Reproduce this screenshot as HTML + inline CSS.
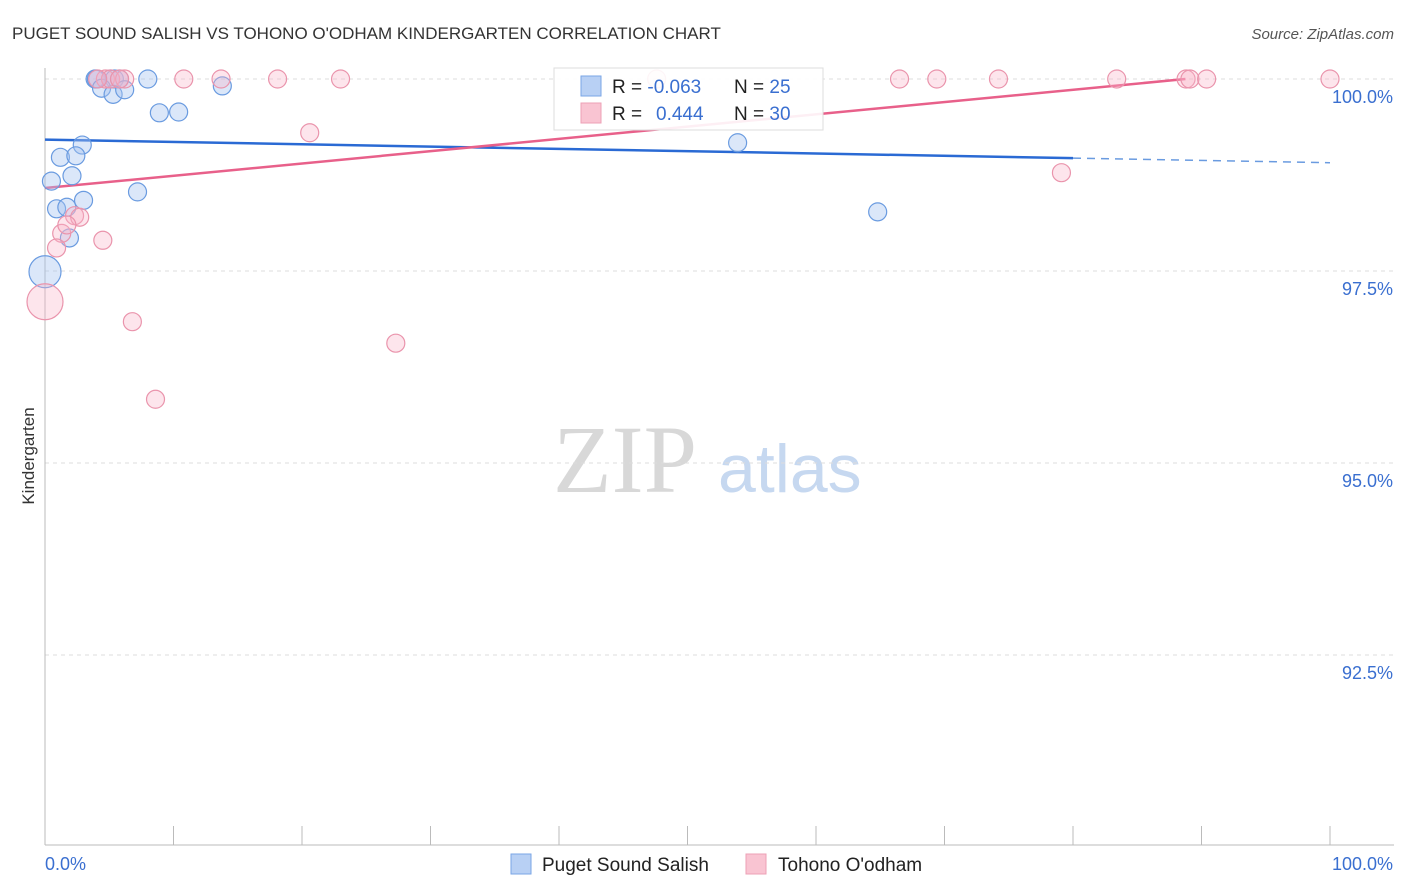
<!DOCTYPE html>
<html><head><meta charset="utf-8">
<style>
body{margin:0;background:#fff;font-family:"Liberation Sans",sans-serif;}
svg{display:block}
</style></head>
<body>
<svg id="chart" width="1406" height="892">
<text x="12" y="39" font-size="17" fill="#333">PUGET SOUND SALISH VS TOHONO O'ODHAM KINDERGARTEN CORRELATION CHART</text>
<text x="1394" y="39" font-size="15" fill="#555" font-style="italic" text-anchor="end">Source: ZipAtlas.com</text>
<text x="34" y="456" font-size="17" fill="#333" text-anchor="middle" transform="rotate(-90 34 456)">Kindergarten</text>
<text x="553" y="492" font-size="96" fill="#d8d8d8" font-family="Liberation Serif,serif">ZIP</text>
<text x="718" y="492" font-size="68" fill="#c6d8f0">atlas</text>
<g id="grid"></g><g id="axes"></g><g id="trends"></g><g id="pts"></g>
<g>
<rect x="554" y="68" width="269" height="62" fill="#fff" fill-opacity="0.9" stroke="#ddd"/>
<rect x="581" y="76" width="20" height="20" fill="#b8d0f4" stroke="#7aa6e6"/>
<rect x="581" y="103" width="20" height="20" fill="#f9c4d2" stroke="#eda0b6"/>
<text x="612" y="93" font-size="19" fill="#222">R = <tspan fill="#3a6fd0">-0.063</tspan><tspan x="734">N = </tspan><tspan fill="#3a6fd0">25</tspan></text>
<text x="612" y="120" font-size="19" fill="#222">R = <tspan x="656" fill="#3a6fd0">0.444</tspan><tspan x="734">N = </tspan><tspan fill="#3a6fd0">30</tspan></text>
</g>
<g>
<rect x="511" y="854" width="20" height="20" fill="#b8d0f4" stroke="#7aa6e6"/>
<text x="542" y="871" font-size="19" fill="#222">Puget Sound Salish</text>
<rect x="746" y="854" width="20" height="20" fill="#f9c4d2" stroke="#eda0b6"/>
<text x="778" y="871" font-size="19" fill="#222">Tohono O'odham</text>
</g>
</svg>
<script>
const yTicks=[100,97.5,95,92.5];
const yTickLabels=["100.0%","97.5%","95.0%","92.5%"];
const xTickLabels=["0.0%","100.0%"];
const blueX=[3.9,4.0,5.1,5.4,5.8,8.0,4.4,5.3,6.2,13.8,8.9,10.4,2.9,1.2,2.4,0.5,2.1,0.9,1.7,3.0,1.9,7.2,53.9,64.8,0];
const blueY=[100,100,100,100,100,100,99.88,99.80,99.86,99.91,99.56,99.57,99.14,98.98,99.0,98.67,98.74,98.31,98.33,98.42,97.93,98.53,99.17,98.27,97.49];
const blueR=[9,9,9,9,9,9,9,9,9,9,9,9,9,9,9,9,9,9,9,9,9,9,9,9,16];
const pinkX=[4.7,5.1,6.2,10.8,13.7,18.1,23.0,47.6,66.5,69.4,74.2,83.4,88.8,89.1,90.4,100,5.8,4.1,20.6,79.1,2.3,2.7,1.3,0.9,1.7,4.5,0,6.8,27.3,8.6];
const pinkY=[100,100,100,100,100,100,100,100,100,100,100,100,100,100,100,100,100,100,99.30,98.78,98.22,98.20,97.99,97.80,98.10,97.90,97.10,96.84,96.56,95.83];
const pinkR=[9,9,9,9,9,9,9,9,9,9,9,9,9,9,9,9,9,9,9,9,9,9,9,9,9,9,18,9,9,9];
const blueTrend=[99.21,-0.0030];
const pinkTrend=[98.58,0.0160];
const NS="http://www.w3.org/2000/svg";
const X0=45,X1=1330,Y100=79,PXPER=76.8;
const sx=v=>X0+(X1-X0)*v/100;
const sy=v=>Y100+(100-v)*PXPER;
function mk(tag,attrs,parent){const e=document.createElementNS(NS,tag);for(const k in attrs)e.setAttribute(k,attrs[k]);document.getElementById(parent).appendChild(e);return e;}
yTicks.forEach((t,i)=>{
 const l=mk('line',{x1:X0,x2:1394,y1:sy(t),y2:sy(t),stroke:'#ddd','stroke-dasharray':'4,4'},'grid');
 
 
 const tx=mk('text',{x:1393,y:sy(t)+24,'font-size':18,fill:'#3a6fd0','text-anchor':'end'},'axes');
 tx.textContent=yTickLabels[i];
 
 
});
let ya=mk('line',{x1:X0,x2:X0,y1:68,y2:845,stroke:'#bbb'},'axes');


let xa=mk('line',{x1:X0,x2:1394,y1:845,y2:845,stroke:'#bbb'},'axes');


for(let i=0;i<=10;i++){const t=mk('line',{x1:sx(i*10),x2:sx(i*10),y1:826,y2:845,stroke:'#bbb'},'axes');
 
 }
[[0,'start',45],[100,'end',1393]].forEach((a,i)=>{const t=mk('text',{x:a[2],y:870,'font-size':18,fill:'#3a6fd0','text-anchor':a[1]},'axes');t.textContent=xTickLabels[i];
 
 });
const bt=mk('line',{x1:sx(0),y1:sy(blueTrend[0]),x2:sx(80),y2:sy(blueTrend[0]+blueTrend[1]*80),stroke:'#2a6ad4','stroke-width':2.5},'trends');


const bd=mk('line',{x1:sx(80),y1:sy(blueTrend[0]+blueTrend[1]*80),x2:sx(100),y2:sy(blueTrend[0]+blueTrend[1]*100),stroke:'#6a9be0','stroke-width':1.5,'stroke-dasharray':'8,6'},'trends');


const xe=(100-pinkTrend[0])/pinkTrend[1];
const pt=mk('line',{x1:sx(0),y1:sy(pinkTrend[0]),x2:sx(xe),y2:sy(100),stroke:'#e8608a','stroke-width':2.5},'trends');


blueX.forEach((v,i)=>{const c=mk('circle',{cx:sx(v),cy:sy(blueY[i]),r:blueR[i],fill:'rgba(164,196,240,0.4)',stroke:'#6a9be0','stroke-width':1.2},'pts');
 
 });
pinkX.forEach((v,i)=>{const c=mk('circle',{cx:sx(v),cy:sy(pinkY[i]),r:pinkR[i],fill:'rgba(248,180,200,0.35)',stroke:'#ea94ac','stroke-width':1.2},'pts');
 
 });
</script>
</body></html>
